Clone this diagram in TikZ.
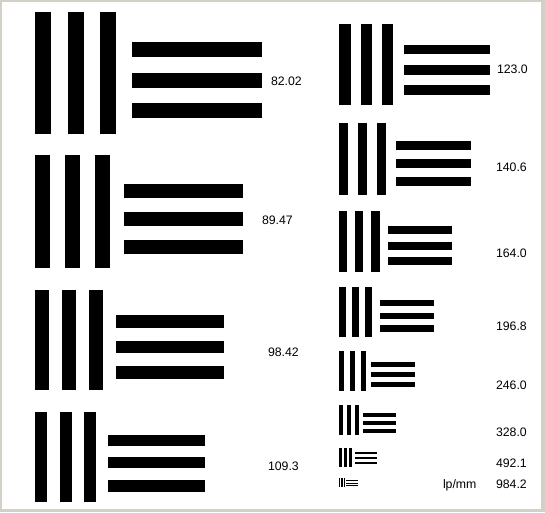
\documentclass[tikz,border=0pt]{standalone}
\usepackage{fontspec}
\setmainfont{Liberation Sans}
\definecolor{framegray}{HTML}{D4D0C8}
\tikzset{
  bar/.style={fill=black},
  lbl/.style={anchor=base west, inner sep=0pt, outer sep=0pt, text=black,
    font=\fontsize{12.3}{14}\selectfont}
}
\begin{document}
\begin{tikzpicture}[x=1pt,y=-1pt]
\fill[framegray] (0,0) rectangle (545,512);
\fill[white] (2,2) rectangle (541,509);
\useasboundingbox (0,0) rectangle (545,512);
% group 1
\fill[bar] (35,12) rectangle (51,134);
\fill[bar] (68,12) rectangle (84,134);
\fill[bar] (100,12) rectangle (116,134);
\fill[bar] (132,42) rectangle (262,57);
\fill[bar] (132,73) rectangle (262,88);
\fill[bar] (132,103) rectangle (262,118);
% group 2
\fill[bar] (35,155) rectangle (50,268);
\fill[bar] (65,155) rectangle (80,268);
\fill[bar] (95,155) rectangle (110,268);
\fill[bar] (124,184) rectangle (243,198);
\fill[bar] (124,212) rectangle (243,226);
\fill[bar] (124,240) rectangle (243,254);
% group 3
\fill[bar] (35,290) rectangle (49,390);
\fill[bar] (62,290) rectangle (76,390);
\fill[bar] (89,290) rectangle (103,390);
\fill[bar] (116,315) rectangle (224,328);
\fill[bar] (116,341) rectangle (224,353);
\fill[bar] (116,366) rectangle (224,379);
% group 4
\fill[bar] (35,412) rectangle (47,502);
\fill[bar] (60,412) rectangle (72,502);
\fill[bar] (84,412) rectangle (96,502);
\fill[bar] (108,435) rectangle (205,446);
\fill[bar] (108,457) rectangle (205,468);
\fill[bar] (108,480) rectangle (205,492);
% group 5
\fill[bar] (339,24) rectangle (351,105);
\fill[bar] (361,24) rectangle (372,105);
\fill[bar] (382,24) rectangle (393,105);
\fill[bar] (404,45) rectangle (490,54);
\fill[bar] (404,65) rectangle (490,75);
\fill[bar] (404,85) rectangle (490,95);
% group 6
\fill[bar] (339,123) rectangle (348,195);
\fill[bar] (358,123) rectangle (367,195);
\fill[bar] (377,123) rectangle (386,195);
\fill[bar] (396,141) rectangle (471,150);
\fill[bar] (396,159) rectangle (471,168);
\fill[bar] (396,177) rectangle (471,186);
% group 7
\fill[bar] (339,211) rectangle (347,272);
\fill[bar] (355,211) rectangle (363,272);
\fill[bar] (371,211) rectangle (380,272);
\fill[bar] (388,226) rectangle (452,234);
\fill[bar] (388,242) rectangle (452,250);
\fill[bar] (388,257) rectangle (452,265);
% group 8
\fill[bar] (339,287) rectangle (346,337);
\fill[bar] (352,287) rectangle (359,337);
\fill[bar] (365,287) rectangle (372,337);
\fill[bar] (380,300) rectangle (434,306);
\fill[bar] (380,313) rectangle (434,319);
\fill[bar] (380,325) rectangle (434,332);
% group 9
\fill[bar] (339,351) rectangle (344,391);
\fill[bar] (350,351) rectangle (355,391);
\fill[bar] (361,351) rectangle (366,391);
\fill[bar] (371,362) rectangle (415,367);
\fill[bar] (371,372) rectangle (415,377);
\fill[bar] (371,382) rectangle (415,387);
% group 10
\fill[bar] (339,405) rectangle (343,435);
\fill[bar] (347,405) rectangle (351,435);
\fill[bar] (355,405) rectangle (359,435);
\fill[bar] (363,413) rectangle (396,417);
\fill[bar] (363,421) rectangle (396,425);
\fill[bar] (363,429) rectangle (396,433);
% group 11
\fill[bar] (339,448) rectangle (342,467);
\fill[bar] (344,448) rectangle (347,467);
\fill[bar] (349,448) rectangle (352,467);
\fill[bar] (355,451.5) rectangle (377,454);
\fill[bar] (355,456.5) rectangle (377,459);
\fill[bar] (355,461.5) rectangle (377,464);
% group 12
\fill[bar] (339,478) rectangle (340.3,487);
\fill[bar] (341.3,478) rectangle (342.6,487);
\fill[bar] (343.6,478) rectangle (344.9,487);
\fill[bar] (346,480) rectangle (358,481.3);
\fill[bar] (346,482.5) rectangle (358,483.8);
\fill[bar] (346,485) rectangle (358,486.3);
% labels
\node[lbl] (l1) at (271,85) {82.02};
\node[lbl] (l2) at (262,224.5) {89.47};
\node[lbl] (l3) at (268,356) {98.42};
\node[lbl] (l4) at (268,470) {109.3};
\node[lbl] (l5) at (497,73) {123.0};
\node[lbl] (l6) at (496,171) {140.6};
\node[lbl] (l7) at (496,257) {164.0};
\node[lbl] (l8) at (496,330) {196.8};
\node[lbl] (l9) at (496,389) {246.0};
\node[lbl] (l10) at (496,436) {328.0};
\node[lbl] (l11) at (496,467.5) {492.1};
\node[lbl] (l12) at (496,488.5) {984.2};
\node[lbl] (unit) at (443,488.5) {lp/mm};
\end{tikzpicture}
\end{document}
